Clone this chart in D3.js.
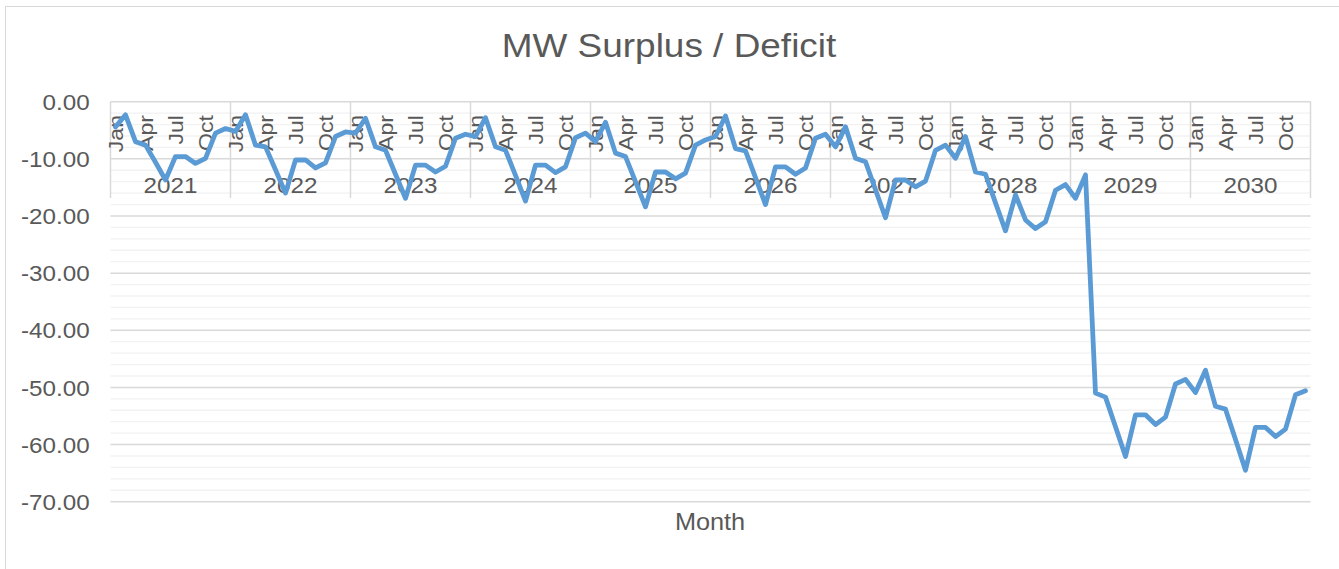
<!DOCTYPE html>
<html>
<head>
<meta charset="utf-8">
<script src="https://cdn.jsdelivr.net/npm/d3@7"></script>
<style>
body { margin: 0; background: #fff; }
svg text { font-family: 'Liberation Sans', Arial, sans-serif; fill: #595959; }
</style>
</head>
<body>
<script>
var WIDTH = 1339, HEIGHT = 569;
var TEXT_STRETCH = 'scale(1.1,1)';

var years = [2021, 2022, 2023, 2024, 2025, 2026, 2027, 2028, 2029, 2030];
var monthNames = ['Jan', 'Feb', 'Mar', 'Apr', 'May', 'Jun', 'Jul', 'Aug', 'Sep', 'Oct', 'Nov', 'Dec'];
var monthTicks = ['Jan', 'Apr', 'Jul', 'Oct'];
var yTicks = [0, -10, -20, -30, -40, -50, -60, -70];

// monthly MW surplus / deficit, Jan..Dec per row
var surplus = [
    -4.4, -2.3, -7.0, -7.6, -10.6, -13.7, -9.6, -9.6, -10.8, -9.9, -5.5, -4.7,
    -5.2, -2.3, -7.6, -7.9, -11.9, -16.0, -10.2, -10.2, -11.6, -10.7, -6.1, -5.3,
    -5.5, -2.9, -7.9, -8.5, -12.7, -16.9, -11.1, -11.1, -12.3, -11.3, -6.4, -5.7,
    -6.1, -2.8, -7.9, -8.5, -12.9, -17.4, -11.1, -11.1, -12.4, -11.4, -6.3, -5.5,
    -7.0, -3.6, -9.0, -9.6, -14.0, -18.4, -12.3, -12.3, -13.5, -12.5, -7.6, -6.7,
    -6.1, -2.5, -8.2, -8.6, -13.3, -18.0, -11.4, -11.4, -12.7, -11.6, -6.4, -5.7,
    -7.9, -4.4, -9.9, -10.5, -15.4, -20.3, -13.7, -13.7, -14.9, -13.9, -8.5, -7.6,
    -9.9, -6.1, -12.3, -12.7, -17.7, -22.6, -16.3, -20.7, -22.2, -21.0, -15.5, -14.5,
    -16.9, -12.8, -51.0, -51.7, -56.9, -62.1, -54.8, -54.8, -56.5, -55.2, -49.4, -48.6,
    -50.9, -47.0, -53.3, -53.8, -59.1, -64.5, -57.0, -57.0, -58.6, -57.3, -51.3, -50.6
];

var categories = [];
years.forEach(function (year) {
    monthNames.forEach(function (month) {
        categories.push({ year: year, month: month });
    });
});

var svg = d3.select('body').append('svg').attr('width', WIDTH).attr('height', HEIGHT);

var x = d3.scaleBand()
    .domain(d3.range(categories.length))
    .range([110.5, 1310.5]);

var y = d3.scaleLinear()
    .domain([-70, 0])
    .range([501.7, 101.7]);

var xEnd = x.range()[1];

// chart border
svg.append('rect')
    .attr('x', 5.5).attr('y', 6.5)
    .attr('width', 1400).attr('height', 700)
    .attr('fill', 'none')
    .attr('stroke', '#d9d9d9');

// title
svg.append('text')
    .attr('transform', 'translate(669,57) scale(1.12,1)')
    .attr('text-anchor', 'middle')
    .attr('font-size', 33)
    .text('MW Surplus / Deficit');

// minor gridlines every 2
var minorTicks = d3.range(-70, 0, 2).filter(function (v) { return v % 10 !== 0; });
svg.append('g').attr('class', 'minorGrid').selectAll('line')
    .data(minorTicks)
    .enter().append('line')
    .attr('x1', x.range()[0]).attr('x2', xEnd)
    .attr('y1', function (d) { return y(d) }).attr('y2', function (d) { return y(d) })
    .attr('stroke', '#f2f2f2')
    .attr('stroke-width', 1.3);

// major gridlines
svg.append('g').attr('class', 'majorGrid').selectAll('line')
    .data(yTicks)
    .enter().append('line')
    .attr('x1', x.range()[0]).attr('x2', xEnd)
    .attr('y1', function (d) { return y(d) }).attr('y2', function (d) { return y(d) })
    .attr('stroke', '#d9d9d9')
    .attr('stroke-width', 1.5);

// y axis labels
var yAxis = svg.append('g')
    .attr('transform', 'translate(' + x.range()[0] + ',0)')
    .call(d3.axisLeft(y)
        .tickValues(yTicks)
        .tickFormat(function (d) { return d.toFixed(2) })
        .tickSize(0)
        .tickPadding(19));
yAxis.select('.domain').remove();
yAxis.selectAll('text')
    .attr('font-size', 22)
    .attr('font-family', null)
    .attr('fill', null)
    .attr('dy', '0.35em')
    .attr('transform', TEXT_STRETCH);

// multi-level category axis (sits at 0)
var catAxis = svg.append('g').attr('class', 'categoryAxis');

var yearBounds = d3.range(years.length + 1).map(function (i) {
    return i < years.length ? x(i * 12) : xEnd;
});
catAxis.selectAll('line.yearDivider')
    .data(yearBounds)
    .enter().append('line')
    .attr('class', 'yearDivider')
    .attr('x1', function (d) { return d }).attr('x2', function (d) { return d })
    .attr('y1', y(0)).attr('y2', 198)
    .attr('stroke', '#d9d9d9')
    .attr('stroke-width', 1.5);

catAxis.selectAll('text.month')
    .data(categories.map(function (c, i) { return { c: c, i: i } })
        .filter(function (d) { return monthTicks.indexOf(d.c.month) >= 0 }))
    .enter().append('text')
    .attr('class', 'month')
    .attr('text-anchor', 'end')
    .attr('font-size', 21)
    .attr('transform', function (d) {
        var cx = x(d.i) + x.bandwidth() / 2 + 7.5;
        return 'translate(' + cx + ',115) rotate(-90) ' + TEXT_STRETCH;
    })
    .text(function (d) { return d.c.month });

catAxis.selectAll('text.year')
    .data(years)
    .enter().append('text')
    .attr('class', 'year')
    .attr('text-anchor', 'middle')
    .attr('font-size', 22)
    .attr('transform', function (d, i) {
        var cx = (yearBounds[i] + yearBounds[i + 1]) / 2;
        return 'translate(' + cx + ',193) ' + TEXT_STRETCH;
    })
    .text(function (d) { return d });

// axis title
svg.append('text')
    .attr('transform', 'translate(710,530) ' + TEXT_STRETCH)
    .attr('text-anchor', 'middle')
    .attr('font-size', 23)
    .text('Month');

// series
var line = d3.line()
    .x(function (d, i) { return x(i) + x.bandwidth() / 2 })
    .y(function (d) { return y(d) });

svg.append('path')
    .datum(surplus)
    .attr('d', line)
    .attr('fill', 'none')
    .attr('stroke', '#5b9bd5')
    .attr('stroke-width', 4.8)
    .attr('stroke-linejoin', 'round')
    .attr('stroke-linecap', 'round');
</script>
</body>
</html>
